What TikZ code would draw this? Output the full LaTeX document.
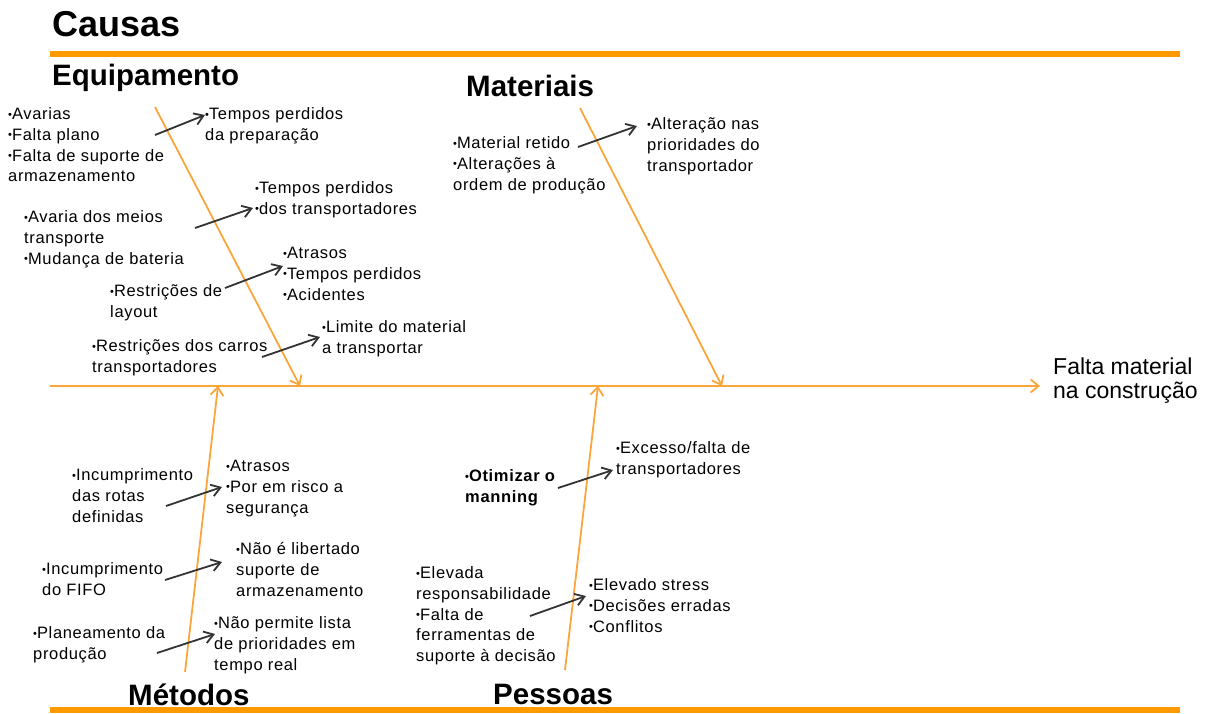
\documentclass[tikz,border=0pt]{standalone}
\usepackage{fontspec}
\setmainfont{Liberation Sans}
\newfontfamily\bodyfont[LetterSpace=4]{Liberation Sans}
\usepackage{xcolor}
\usetikzlibrary{arrows.meta}
\definecolor{bonecol}{HTML}{FBA63A}
\definecolor{bandcol}{HTML}{FF9900}
\definecolor{inkcol}{HTML}{333333}
\newcommand{\bul}{\raisebox{1.5pt}{\fontsize{11}{11}\selectfont •}}
\tikzset{
  txt/.style={font=\bodyfont\fontsize{16.5}{20.7}\selectfont, align=left, anchor=north west, inner sep=0pt},
  head/.style={font=\fontsize{29.5}{31}\selectfont\bfseries, anchor=base west, inner sep=0pt},
  band/.style={draw=bandcol, line width=6pt},
  bone/.style={draw=bonecol, line width=1.8pt, -{Straight Barb[length=8pt,width=13pt]}},
  cause/.style={draw=inkcol, line width=1.8pt, -{Straight Barb[length=9pt,width=12pt]}}
}

\begin{document}
\begin{tikzpicture}[x=1pt,y=-1pt]
\useasboundingbox (0,0) rectangle (1219,713);
\coordinate (ta) at (50,54);  \coordinate (tb) at (1180,54);
\coordinate (ba) at (50,710); \coordinate (bb) at (1180,710);
\coordinate (sa) at (50,386); \coordinate (sb) at (1040,386);
\coordinate (eqa) at (155,107); \coordinate (eqb) at (300,386);
\coordinate (maa) at (580,108); \coordinate (mab) at (722,386);
\coordinate (mea) at (185,672); \coordinate (meb) at (218,386);
\coordinate (pea) at (565,670); \coordinate (peb) at (598,386);
\draw[band] (ta) -- (tb);
\draw[band] (ba) -- (bb);
\draw[bone] (sa) -- (sb);
\draw[bone] (eqa) -- (eqb);
\draw[bone] (maa) -- (mab);
\draw[bone] (mea) -- (meb);
\draw[bone] (pea) -- (peb);
\node[head, font=\fontsize{36}{38}\selectfont\bfseries] (causas) at (52,36) {Causas};
\node[head] (equip) at (52,85) {Equipamento};
\node[head] (mat) at (466,96) {Materiais};
\node[head] (met) at (128,705) {Métodos};
\node[head] (pes) at (493,704) {Pessoas};
\node[txt, font=\fontsize{23}{24}\selectfont] (efeito) at (1053,357) {\strut Falta material\\na construção};
\node[txt] (eq1) at (8,105) {\strut\bul Avarias\\\bul Falta plano\\\bul Falta de suporte de\\armazenamento};
\node[txt] (eq1r) at (205,105) {\strut\bul Tempos perdidos\\da preparação};
\node[txt] (eq2) at (24,208) {\strut\bul Avaria dos meios\\transporte\\\bul Mudança de bateria};
\node[txt] (eq2r) at (255,179) {\strut\bul Tempos perdidos\\\bul dos transportadores};
\node[txt] (eq3) at (110,282) {\strut\bul Restrições de\\layout};
\node[txt] (eq3r) at (283,244) {\strut\bul Atrasos\\\bul Tempos perdidos\\\bul Acidentes};
\node[txt] (eq4) at (92,337) {\strut\bul Restrições dos carros\\transportadores};
\node[txt] (eq4r) at (322,318) {\strut\bul Limite do material\\a transportar};
\node[txt] (ma1) at (453,134) {\strut\bul Material retido\\\bul Alterações à\\ordem de produção};
\node[txt] (ma1r) at (647,115) {\strut\bul Alteração nas\\prioridades do\\transportador};
\node[txt] (me1) at (72,466) {\strut\bul Incumprimento\\das rotas\\definidas};
\node[txt] (me1r) at (226,457) {\strut\bul Atrasos\\\bul Por em risco a\\segurança};
\node[txt] (me2) at (42,560) {\strut\bul Incumprimento\\do FIFO};
\node[txt] (me2r) at (236,540) {\strut\bul Não é libertado\\suporte de\\armazenamento};
\node[txt] (me3) at (33,624) {\strut\bul Planeamento da\\produção};
\node[txt] (me3r) at (214,614) {\strut\bul Não permite lista\\de prioridades em\\tempo real};
\node[txt, font=\bodyfont\fontsize{16.5}{20.7}\selectfont\bfseries] (pe1) at (465,467) {\strut\bul Otimizar o\\manning};
\node[txt] (pe1r) at (616,439) {\strut\bul Excesso/falta de\\transportadores};
\node[txt] (pe2) at (416,564) {\strut\bul Elevada\\responsabilidade\\\bul Falta de\\ferramentas de\\suporte à decisão};
\node[txt] (pe2r) at (589,576) {\strut\bul Elevado stress\\\bul Decisões erradas\\\bul Conflitos};
\coordinate (c1a) at (155,135); \coordinate (c1b) at (205,115);
\coordinate (c2a) at (195,228); \coordinate (c2b) at (253,208);
\coordinate (c3a) at (225,288); \coordinate (c3b) at (283,266);
\coordinate (c4a) at (262,357); \coordinate (c4b) at (320,337);
\coordinate (c5a) at (578,147); \coordinate (c5b) at (637,126);
\coordinate (c6a) at (166,506); \coordinate (c6b) at (222,487);
\coordinate (c7a) at (165,580); \coordinate (c7b) at (222,562);
\coordinate (c8a) at (157,653); \coordinate (c8b) at (215,634);
\coordinate (c9a) at (558,488); \coordinate (c9b) at (613,470);
\coordinate (c10a) at (530,616); \coordinate (c10b) at (586,596);
\foreach \i in {1,...,10} \draw[cause] (c\i a) -- (c\i b);
\end{tikzpicture}
\end{document}
